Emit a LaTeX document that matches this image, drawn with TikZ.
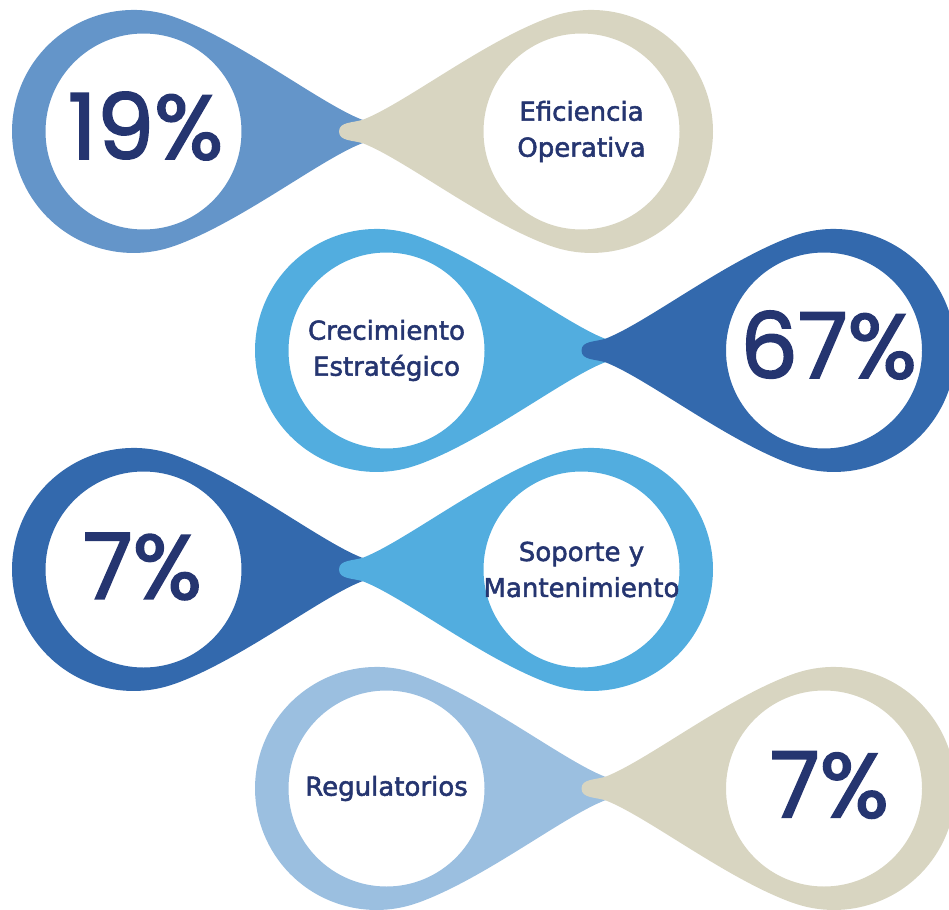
\documentclass[tikz,border=0pt]{standalone}
\usepackage{fontspec}
\newfontfamily\pctfont{Poppins}[FakeBold=2]
\newfontfamily\lblfont{DejaVu Sans}[FakeBold=2]
\definecolor{midblue}{HTML}{6495C9}
\definecolor{darkblue}{HTML}{3369AD}
\definecolor{skyblue}{HTML}{52ADDF}
\definecolor{paleblue}{HTML}{9BBFE0}
\definecolor{sand}{HTML}{D8D5C1}
\definecolor{navy}{HTML}{253570}

\tikzset{
  teardrop/.pic={
    \fill[#1, even odd rule] (31.6,114.2) .. controls (97.4,90.4) and (176,28.6) .. (218,12)
      .. controls (228,8.5) and (242.5,10) .. (242.5,0)
      .. controls (242.5,-10) and (228,-8.5) .. (218,-12)
      .. controls (176,-28.6) and (97.4,-90.4) .. (31.6,-114.2)
      arc[start angle=-70, end angle=-290, radius=121.5] -- cycle
      (0,0) circle (98);
  },
  pct/.style={text=navy, font=\pctfont\fontsize{91}{91}\selectfont, inner sep=0pt},
  lbl/.style={text=navy, font=\lblfont\fontsize{26}{36}\selectfont, align=center, inner sep=0pt}
}

\begin{document}
\begin{tikzpicture}[x=1pt, y=-1pt]
    \useasboundingbox (0,0) rectangle (949,909);
    % Row 1
    \pic at (143.5,131.5) {teardrop=midblue};
    \pic[xscale=-1] at (581.5,131.5) {teardrop=sand};
    \node[pct] (p19) at (145.5,126) {19\%};
    \node[lbl] (efic) at (581.5,131.5) {Eficiencia\\Operativa};
    % Row 2
    \pic at (386.5,350.5) {teardrop=skyblue};
    \pic[xscale=-1] at (824,350.5) {teardrop=darkblue};
    \node[lbl] (crec) at (386.5,350.5) {Crecimiento\\Estratégico};
    \node[pct] (p67) at (828.5,345) {67\%};
    % Row 3
    \pic at (143.5,569.5) {teardrop=darkblue};
    \pic[xscale=-1] at (581.5,569.5) {teardrop=skyblue};
    \node[pct] (p7a) at (142.5,566.5) {7\%};
    \node[lbl] (sopo) at (581.5,569.5) {Soporte y\\Mantenimiento};
    % Row 4
    \pic at (386.5,788.5) {teardrop=paleblue};
    \pic[xscale=-1] at (824,788.5) {teardrop=sand};
    \node[lbl] (regu) at (386.5,788.5) {Regulatorios};
    \node[pct] (p7b) at (829.5,785) {7\%};
\end{tikzpicture}
\end{document}
